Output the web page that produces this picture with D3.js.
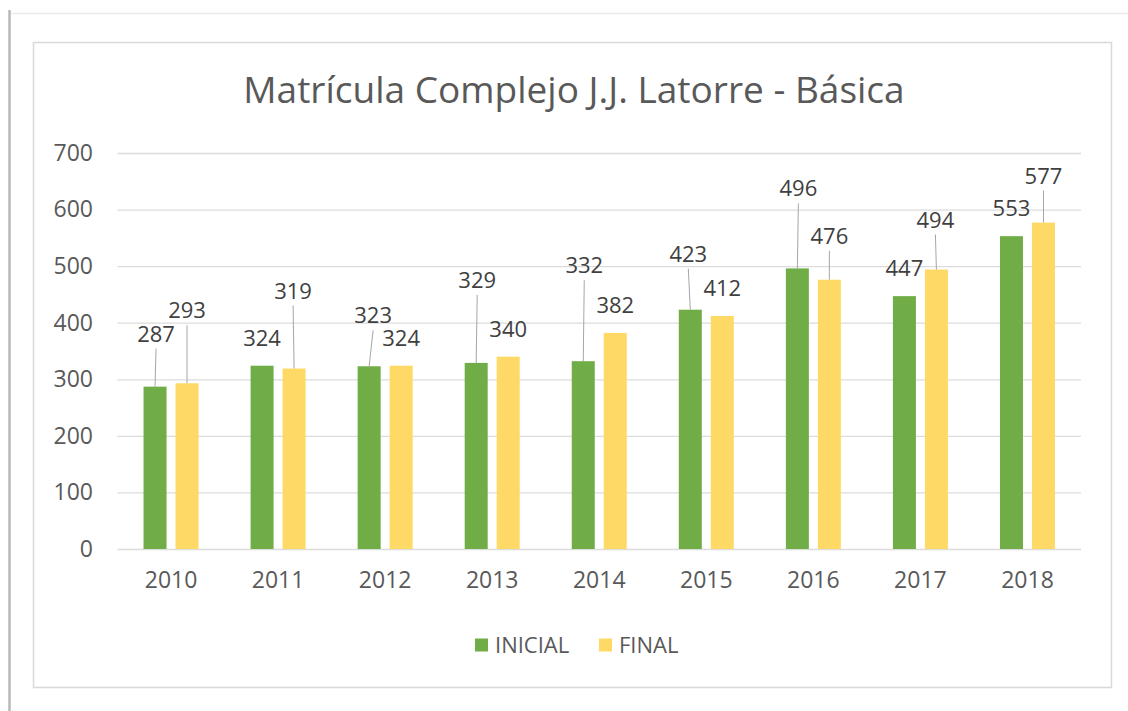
<!DOCTYPE html>
<html>
<head>
<meta charset="utf-8">
<script src="https://cdn.jsdelivr.net/npm/d3@7"></script>
<style>
  body { margin: 0; background: #fff; }
  svg { display: block; }
</style>
</head>
<body>
<svg id="svg" width="1128" height="711"></svg>
<script>
    var font = "Open Sans";

    // datos del grafico
    var years = ["2010", "2011", "2012", "2013", "2014", "2015", "2016", "2017", "2018"];
    var series = ["INICIAL", "FINAL"];
    var inicial = [287, 324, 323, 329, 332, 423, 496, 447, 553];
    var final = [293, 319, 324, 340, 382, 412, 476, 494, 577];
    var yTicks = [0, 100, 200, 300, 400, 500, 600, 700];

    // desplazamiento de etiquetas (px) como en Excel
    var liftInicial = [25, 0, 23, 55, 68, 28, 52, 0, 0];
    var shiftInicial = [1, 0, 4, 1, 1, -2, 1, 0, 0];
    var liftFinal = [45, 50, 0, 0, 0, 0, 16, 22, 19];
    var shiftFinal = [0, -1, 0, 0, 0, 0, 0, -1, 0];

    var colors = { "INICIAL": "#70ad47", "FINAL": "#ffd966" };

    var svg = d3.select("#svg");

    // marco exterior
    svg.append("line").attr("x1", 9).attr("x2", 1128).attr("y1", 13.5).attr("y2", 13.5)
        .attr("stroke", "#ececec").attr("stroke-width", 1.5);
    svg.append("line").attr("x1", 9.5).attr("x2", 9.5).attr("y1", 10).attr("y2", 711)
        .attr("stroke", "#b8b8b8").attr("stroke-width", 2.5);

    // area del grafico
    svg.append("rect").attr("x", 33.5).attr("y", 42.5).attr("width", 1078).attr("height", 645)
        .attr("fill", "#fff").attr("stroke", "#d9d9d9").attr("stroke-width", 1.5);

    svg.append("text")
        .attr("x", 574).attr("y", 103)
        .attr("text-anchor", "middle")
        .attr("font-family", font).attr("font-size", "37px")
        .attr("fill", "#595959")
        .text("Matrícula Complejo J.J. Latorre - Básica");

    var x0 = d3.scaleBand().domain(years).range([117.5, 1081]);
    var bw = x0.bandwidth();
    var x1 = d3.scaleBand().domain(series).range([bw / 2 - 27.5, bw / 2 + 27.5]).paddingInner(0.28125);
    var y = d3.scaleLinear().domain([0, 700]).range([549, 153]);

    // lineas de division
    svg.append("g").selectAll("line")
        .data(yTicks)
        .enter()
        .append("line")
        .attr("x1", 117.5).attr("x2", 1081)
        .attr("y1", function (d) { return y(d) + 0.5; })
        .attr("y2", function (d) { return y(d) + 0.5; })
        .attr("stroke", "#dcdcdc").attr("stroke-width", 1.3);

    // eje y
    var yAxis = svg.append("g")
        .attr("transform", "translate(93,0)")
        .call(d3.axisLeft(y).tickValues(yTicks).tickSize(0).tickPadding(0));
    yAxis.select(".domain").remove();
    yAxis.selectAll("text")
        .attr("font-family", font).attr("font-size", "23px").attr("fill", "#595959");

    // eje x
    var xAxis = svg.append("g")
        .attr("transform", "translate(0,549)")
        .call(d3.axisBottom(x0).tickSize(0).tickPadding(23));
    xAxis.select(".domain").remove();
    xAxis.selectAll("text")
        .attr("font-family", font).attr("font-size", "23px").attr("fill", "#595959");

    var points = [];
    years.forEach(function (yr, i) {
        points.push({ year: yr, s: "INICIAL", v: inicial[i], lift: liftInicial[i], dx: shiftInicial[i] });
        points.push({ year: yr, s: "FINAL", v: final[i], lift: liftFinal[i], dx: shiftFinal[i] });
    });

    points.forEach(function (d) {
        d.cx = x0(d.year) + x1(d.s) + x1.bandwidth() / 2;
        d.top = y(d.v);
        d.lx = d.cx + d.dx;
        d.ly = d.top - 28 - d.lift;
    });

    svg.append("g").selectAll("rect")
        .data(points)
        .enter()
        .append("rect")
        .attr("x", function (d) { return x0(d.year) + x1(d.s); })
        .attr("y", function (d) { return d.top; })
        .attr("width", x1.bandwidth())
        .attr("height", function (d) { return y(0) - d.top; })
        .attr("fill", function (d) { return colors[d.s]; });

    // lineas guia
    svg.append("g").selectAll("line")
        .data(points.filter(function (d) { return d.lift > 5; }))
        .enter()
        .append("line")
        .attr("x1", function (d) { return d.lx; })
        .attr("y1", function (d) { return d.ly + 15; })
        .attr("x2", function (d) { return d.cx; })
        .attr("y2", function (d) { return d.top; })
        .attr("stroke", "#a6a6a6").attr("stroke-width", 1);

    svg.append("g").selectAll("text")
        .data(points)
        .enter()
        .append("text")
        .attr("x", function (d) { return d.lx; })
        .attr("y", function (d) { return d.ly + 8; })
        .attr("text-anchor", "middle")
        .attr("font-family", font).attr("font-size", "22px")
        .attr("fill", "#404040")
        .text(function (d) { return d.v; });

    // leyenda
    var legend = svg.append("g");
    var lx = [475, 599];
    var legendItems = legend.selectAll("g")
        .data(series)
        .enter()
        .append("g")
        .attr("transform", function (d, i) { return "translate(" + lx[i] + ",645)"; });
    legendItems.append("rect")
        .attr("x", 0).attr("y", -6.5).attr("width", 13).attr("height", 13)
        .attr("fill", function (d) { return colors[d]; });
    legendItems.append("text")
        .attr("x", 20).attr("y", 8)
        .attr("font-family", font).attr("font-size", "22px")
        .attr("fill", "#595959")
        .text(function (d) { return d; });
</script>
</body>
</html>
